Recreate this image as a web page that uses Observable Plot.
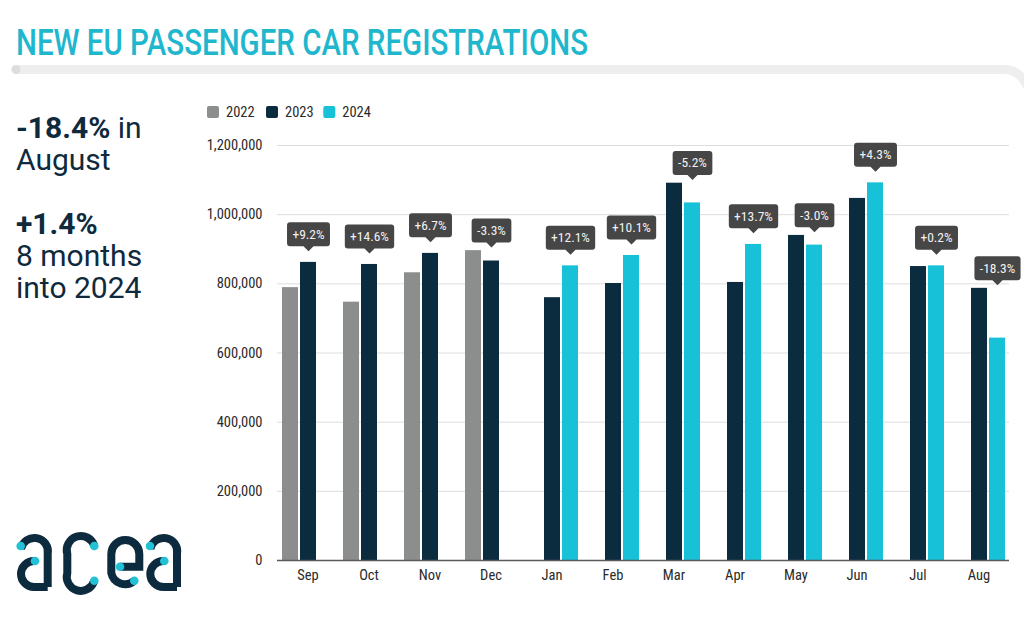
<!DOCTYPE html>
<html><head><meta charset="utf-8">
<script src="https://cdn.jsdelivr.net/npm/d3@7"></script>
<script src="https://cdn.jsdelivr.net/npm/@observablehq/plot@0.6"></script>
<style>
body{margin:0;background:#fff;}
#wrap{position:relative;width:1024px;height:621px;overflow:hidden;font-family:Roboto,sans-serif;}
#decor{position:absolute;left:0;top:0;}
#chart{position:absolute;left:0;top:90px;}
</style></head><body>
<div id="wrap">
<svg id="decor" width="1024" height="621" xmlns="http://www.w3.org/2000/svg">
  <text x="16" y="55" font-family="Roboto" font-weight="500" font-size="36" fill="#1fb7cd" textLength="572" lengthAdjust="spacingAndGlyphs">NEW EU PASSENGER CAR REGISTRATIONS</text>
  <path d="M16 69.5 L1004 69.5 Q1022 69.5 1030 92" fill="none" stroke="#eeeeee" stroke-width="9" stroke-linecap="round"/>
  <circle cx="16" cy="69.5" r="4.5" fill="#dddddd"/>
  <g font-family="Roboto" font-size="30" fill="#0e2a3c">
    <text x="16" y="138"><tspan font-weight="700">-18.4%</tspan> in</text>
    <text x="16" y="170">August</text>
    <text x="16" y="234" font-weight="700">+1.4%</text>
    <text x="16" y="266">8 months</text>
    <text x="16" y="298">into 2024</text>
  </g>
  <g id="legend" font-family="'Liberation Sans Narrow', 'Roboto Condensed', Roboto, sans-serif" font-size="14.5" fill="#2a2a2a"></g>
  <g id="logo" fill="none" stroke="#0d2b3e" stroke-width="8">
    <g>
      <path d="M21 549 A13.5 13.5 0 0 1 47.7 554 L47.7 587"/>
      <path d="M35 561 L34 561 A13 13 0 0 0 34 587 L47.7 587"/>
    </g>
    <path d="M94.3 546 A14 14 0 0 0 67.3 554 L67.3 573 A14 14 0 0 0 94.3 580.7"/>
    <path d="M120 566.7 L139.3 566.7 L139.3 554 A14 14 0 0 0 111.3 554 L111.3 573 A14 14 0 0 0 134.3 580.7"/>
    <g transform="translate(129.3,0)">
      <path d="M21 549 A13.5 13.5 0 0 1 47.7 554 L47.7 587"/>
      <path d="M35 561 L34 561 A13 13 0 0 0 34 587 L47.7 587"/>
    </g>
    <g fill="#22c1d6" stroke="none">
      <circle cx="20.7" cy="546" r="4.3"/>
      <circle cx="35" cy="561" r="4.3"/>
      <circle cx="94.3" cy="546" r="4.3"/>
      <circle cx="94.3" cy="580.7" r="4.3"/>
      <circle cx="120" cy="566.7" r="4.3"/>
      <circle cx="134.3" cy="580.7" r="4.3"/>
      <circle cx="150" cy="546" r="4.3"/>
      <circle cx="164.3" cy="561" r="4.3"/>
    </g>
  </g>
</svg>
<div id="chart"></div>
</div>
<script>
// ---- data ----
const months = ["Sep","Oct","Nov","Dec","Jan","Feb","Mar","Apr","May","Jun","Jul","Aug"];
const years = ["2022","2023","2024"];
const colors = ["#8c8e8d","#0b2b3f","#17c1d8"];
// Sep–Dec 2022
const v2022 = [789000, 747000, 832000, 896000];
// Sep–Dec 2023 and Jan–Aug 2023
const v2023 = [862000, 856000, 888000, 866000, 760000, 801000, 1091000, 804000, 940000, 1047000, 850000, 787000];
// Jan–Aug 2024
const v2024 = [852000, 882000, 1034000, 914000, 912000, 1092000, 852000, 643000];
const changes = ["+9.2%","+14.6%","+6.7%","-3.3%","+12.1%","+10.1%","-5.2%","+13.7%","-3.0%","+4.3%","+0.2%","-18.3%"];
const yTicks = [0, 200000, 400000, 600000, 800000, 1000000, 1200000];

const narrow = "'Liberation Sans Narrow', 'Roboto Condensed', Roboto, sans-serif";

// ---- legend ----
const leg = d3.select("#legend");
const legX = [207, 266, 323.3];
years.forEach((y, i) => {
  leg.append("rect").attr("x", legX[i]).attr("y", 106).attr("width", 12).attr("height", 12).attr("rx", 2).attr("fill", colors[i]);
  leg.append("text").attr("x", legX[i] + 19).attr("y", 117).text(y);
});

// ---- table ----
const rows = [];
months.forEach((m, i) => {
  if (i < 4) rows.push({month: m, year: "2022", value: v2022[i]});
  rows.push({month: m, year: "2023", value: v2023[i]});
  if (i >= 4) rows.push({month: m, year: "2024", value: v2024[i - 4]});
});

const ctx = document.createElement("canvas").getContext("2d");
ctx.font = "13px " + narrow;
const callouts = months.map((m, i) => {
  const lab = i < 4 ? v2023[i] : v2024[i - 4];
  const other = i < 4 ? v2022[i] : v2023[i];
  return {
    month: m,
    year: i < 4 ? "2023" : "2024",
    anchor: Math.max(lab + 32000, other + 9000),
    label: changes[i],
    hw: ctx.measureText(changes[i]).width / 2 + 6
  };
});

const calloutSymbol = {
  draw(p, size) {
    const hw = Math.sqrt(size / Math.PI), h = 24, ptr = 5, pw = 5, cr = 3;
    p.moveTo(0, 0);
    p.lineTo(-pw, -ptr);
    p.lineTo(-hw + cr, -ptr);
    p.arcTo(-hw, -ptr, -hw, -ptr - cr, cr);
    p.lineTo(-hw, -ptr - h + cr);
    p.arcTo(-hw, -ptr - h, -hw + cr, -ptr - h, cr);
    p.lineTo(hw - cr, -ptr - h);
    p.arcTo(hw, -ptr - h, hw, -ptr - h + cr, cr);
    p.lineTo(hw, -ptr - cr);
    p.arcTo(hw, -ptr, hw - cr, -ptr, cr);
    p.lineTo(pw, -ptr);
    p.closePath();
  }
};

const chart = Plot.plot({
  width: 1024, height: 531,
  marginLeft: 273, marginRight: 12, marginTop: 55, marginBottom: 61,
  style: {fontFamily: narrow, fontSize: "14px", color: "#2a2a2a", background: "transparent", overflow: "visible"},
  fx: {domain: months, padding: 0, label: null},
  x: {domain: years, paddingInner: 0.12, paddingOuter: 0.22, axis: null},
  y: {domain: [0, 1200000], label: null},
  color: {domain: years, range: colors},
  r: {type: "identity"},
  marks: [
    Plot.gridY(yTicks, {stroke: "#dddddd", strokeOpacity: 1}),
    Plot.axisY({ticks: yTicks, tickSize: 0, tickPadding: 15, tickFormat: d3.format(","), fontSize: 14.5, label: null, fill: "#2a2a2a"}),
    Plot.axisFx({anchor: "bottom", tickSize: 0, tickPadding: 9, fontSize: 14.5, label: null, fill: "#2a2a2a"}),
    Plot.barY(rows, {fx: "month", x: "year", y: "value", fill: "year", inset: 0}),
    Plot.ruleY([0], {stroke: "#5a5a5a", strokeWidth: 1.3}),
    Plot.dot(callouts, {fx: "month", x: "year", y: "anchor", r: "hw", symbol: calloutSymbol, fill: "#464646", stroke: null}),
    Plot.text(callouts, {fx: "month", x: "year", y: "anchor", text: "label", dy: -17, fill: "#f2f2f2", fontSize: 13.5})
  ]
});
document.getElementById("chart").appendChild(chart);
</script>
</body></html>
